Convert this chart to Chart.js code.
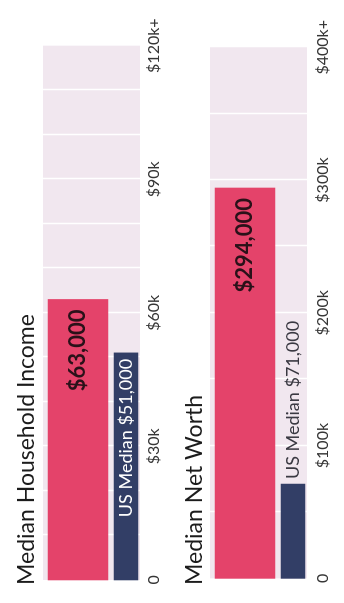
<!DOCTYPE html>
<html>
<head>
<meta charset="utf-8">
<script src="https://cdn.jsdelivr.net/npm/chart.js@4.4.1/dist/chart.umd.min.js"></script>
<style>
  html, body { margin: 0; padding: 0; background: #fff; overflow: hidden; }
  /* the sheet is laid out landscape and turned a quarter to the left */
  #sheet {
    position: absolute; left: 0; top: 0;
    width: 603px; height: 344px;
    transform-origin: 0 0;
    transform: translate(0, 603px) rotate(-90deg);
  }
  .panel { position: absolute; left: 0; width: 603px; height: 182px; }
  #incomePanel { top: 0; }
  #worthPanel { top: 172px; }
</style>
</head>
<body>
<div id="sheet">
  <div class="panel" id="incomePanel"><canvas id="incomeChart"></canvas></div>
  <div class="panel" id="worthPanel"><canvas id="worthChart"></canvas></div>
</div>
<script>
const barNames = ['Local', 'US Median'];

const incomeValues = [63000, 51000];
const incomeMax = 120000;
const incomeGridStep = 10000;
const incomeTicks = ['0', '$30k', '$60k', '$90k', '$120k+'];

const worthValues = [294000, 71000];
const worthMax = 400000;
const worthGridStep = 50000;
const worthTicks = ['0', '$100k', '$200k', '$300k', '$400k+'];

const FONT = 'Lato, "Open Sans", sans-serif';
const RED = '#e4436a';
const NAVY = '#323e66';

function money(v) {
    return '$' + v.toLocaleString('en-US');
}

// pink track with white grid lines behind the bars, plus the value labels
const panelPlugin = {
    id: 'panel',
    beforeDatasetsDraw(chart) {
        const { ctx, scales: { x } } = chart;
        const bars = [];
        chart.data.datasets.forEach((ds, i) => {
            chart.getDatasetMeta(i).data.forEach((el, j) => {
                if (ds.data[j] != null) bars.push(el);
            });
        });
        const top = Math.min(...bars.map(b => b.y - b.height / 2)) - 5;
        const bottom = Math.max(...bars.map(b => b.y + b.height / 2)) + 2;
        const left = x.getPixelForValue(x.min);
        const right = x.getPixelForValue(x.max);

        ctx.save();
        ctx.fillStyle = '#f1e7ef';
        ctx.fillRect(left, top, right - left, bottom - top);
        ctx.strokeStyle = '#ffffff';
        ctx.lineWidth = 1.5;
        x.ticks.forEach(t => {
            if (t.value <= x.min || t.value >= x.max) return;
            const px = Math.round(x.getPixelForValue(t.value)) + 0.5;
            ctx.beginPath();
            ctx.moveTo(px, top);
            ctx.lineTo(px, bottom);
            ctx.stroke();
        });
        ctx.restore();
    },
    afterDatasetsDraw(chart) {
        const ctx = chart.ctx;
        ctx.save();
        ctx.textBaseline = 'middle';
        chart.data.datasets.forEach((ds, i) => {
            chart.getDatasetMeta(i).data.forEach((el, j) => {
                const v = ds.data[j];
                if (v == null) return;
                const text = ds.labelPrefix + money(v);
                ctx.font = ds.labelFont;
                const w = ctx.measureText(text).width;
                if (w + ds.labelPad * 2 < el.x - el.base) {
                    ctx.textAlign = 'right';
                    ctx.fillStyle = ds.labelInside;
                    ctx.fillText(text, el.x - ds.labelPad, el.y);
                } else {
                    ctx.textAlign = 'left';
                    ctx.fillStyle = ds.labelOutside;
                    ctx.fillText(text, el.x + 5, el.y);
                }
            });
        });
        ctx.restore();
    }
};

// the category axis has no offset, so the two bar centres sit on the
// top and bottom edges of the chart area
function makeChart(id, title, values, max, gridStep, tickLabels, pad) {
    const labelStep = max / (tickLabels.length - 1);
    return new Chart(document.getElementById(id), {
        type: 'bar',
        data: {
            labels: barNames,
            datasets: [{
                data: [values[0], null],
                backgroundColor: RED,
                barThickness: 60,
                clip: false,
                labelPrefix: '',
                labelFont: 'bold 22px ' + FONT,
                labelPad: 10,
                labelInside: '#2a1119',
                labelOutside: '#2a1119'
            }, {
                data: [null, values[1]],
                backgroundColor: NAVY,
                barThickness: 24,
                clip: false,
                labelPrefix: 'US Median ',
                labelFont: '18px ' + FONT,
                labelPad: 6,
                labelInside: '#ffffff',
                labelOutside: '#3a3942'
            }]
        },
        options: {
            indexAxis: 'y',
            responsive: true,
            maintainAspectRatio: false,
            animation: false,
            layout: { padding: { left: 18, right: 42, top: 0, bottom: pad.bottom } },
            scales: {
                x: {
                    min: 0,
                    max: max,
                    stacked: true,
                    grid: { display: false, drawTicks: false },
                    border: { display: false },
                    ticks: {
                        stepSize: gridStep,
                        autoSkip: false,
                        maxRotation: 0,
                        padding: pad.ticks,
                        color: '#363636',
                        font: { family: FONT, size: 16 },
                        callback: function(value) {
                            return value % labelStep === 0 ? tickLabels[value / labelStep] : '';
                        }
                    }
                },
                y: { stacked: true, display: false, offset: false }
            },
            plugins: {
                legend: { display: false },
                tooltip: { enabled: false },
                title: {
                    display: true,
                    text: title,
                    align: 'start',
                    color: '#1c1c1c',
                    font: { family: FONT, size: 23, weight: 'normal', lineHeight: 1.2 },
                    padding: { top: pad.titleTop, bottom: pad.titleBottom }
                }
            }
        },
        plugins: [panelPlugin]
    });
}

makeChart('incomeChart', 'Median Household Income', incomeValues, incomeMax, incomeGridStep, incomeTicks,
    { titleTop: 13, titleBottom: 37.4, ticks: 18.4, bottom: 0 });
makeChart('worthChart', 'Median Net Worth', worthValues, worthMax, worthGridStep, worthTicks,
    { titleTop: 9, titleBottom: 36.4, ticks: 20, bottom: 1.8 });
</script>
</body>
</html>
